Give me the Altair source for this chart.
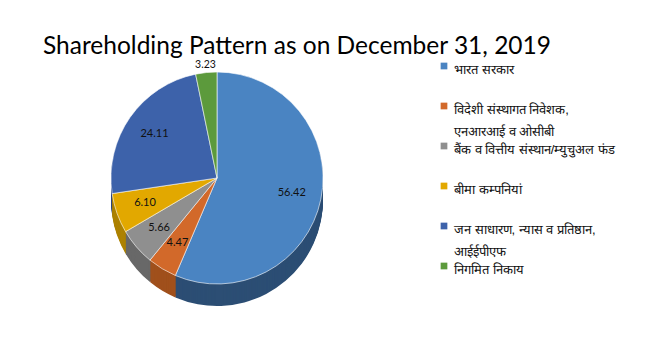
import altair as alt
import pandas as pd

title_text = "Shareholding Pattern as on December 31, 2019"
categories = [
    "भारत सरकार",
    "विदेशी संस्थागत निवेशक,",
    "बैंक व वित्तीय संस्थान/म्युचुअल फंड",
    "बीमा कम्पनियां",
    "जन साधारण, न्यास व प्रतिष्ठान,",
    "निगमित निकाय",
]
label_line2 = ["", "एनआरआई व ओसीबी", "", "", "आईईपीएफ", ""]
values = [56.42, 4.47, 5.66, 6.10, 24.11, 3.23]
order_idx = [0, 1, 2, 3, 4, 5]

top_colors = ["#4a84c2", "#d2692a", "#8f8f8f", "#e2a800", "#3d62aa", "#5c9a3c"]
side_colors = ["#2c4e74", "#a0501c", "#686868", "#ad8200", "#2b4680", "#44772b"]

df = pd.DataFrame({"cat": categories, "line2": label_line2, "value": values, "idx": order_idx})

CX, CY, R, DEPTH = 217, 178, 106, 22

top_scale = alt.Scale(domain=categories, range=top_colors)
side_scale = alt.Scale(domain=categories, range=side_colors)

base = alt.Chart(df)

layers = []
for off in range(DEPTH, 0, -1):
    layers.append(
        base.mark_arc(radius=R, stroke=None).encode(
            theta=alt.Theta("value:Q", stack=True),
            order=alt.Order("idx:Q"),
            color=alt.Color("cat:N", scale=side_scale, legend=None),
            x=alt.value(CX),
            y=alt.value(CY + off),
        )
    )

top = base.mark_arc(radius=R, stroke="#ffffff", strokeWidth=0.6).encode(
    theta=alt.Theta("value:Q", stack=True),
    order=alt.Order("idx:Q"),
    color=alt.Color("cat:N", scale=top_scale, legend=None),
    x=alt.value(CX),
    y=alt.value(CY),
)
layers.append(top)

inside = base.transform_calculate(
    lbl="datum.value >= 4 ? format(datum.value, '.2f') : ''"
).mark_text(
    radius=R * 0.72, font="Lato", fontSize=11, color="#111111"
).encode(
    theta=alt.Theta("value:Q", stack=True),
    order=alt.Order("idx:Q"),
    text="lbl:N",
    x=alt.value(CX),
    y=alt.value(CY),
)
outside = base.transform_calculate(
    lbl="datum.value < 4 ? format(datum.value, '.2f') : ''"
).mark_text(
    radius=R + 8, font="Lato", fontSize=10.5, color="#111111"
).encode(
    theta=alt.Theta("value:Q", stack=True),
    order=alt.Order("idx:Q"),
    text="lbl:N",
    x=alt.value(CX),
    y=alt.value(CY),
)

leg_y = alt.Y("cat:N", scale=alt.Scale(domain=categories, range=[66, 266], padding=0), axis=None)
leg_sq = base.mark_square(size=45, opacity=1).encode(
    x=alt.value(444),
    y=leg_y,
    color=alt.Color("cat:N", scale=top_scale, legend=None),
)
leg_txt1 = base.mark_text(
    align="left", baseline="middle", dy=4, fontSize=13, color="#111111",
).encode(
    x=alt.value(454),
    y=leg_y,
    text="cat:N",
)
leg_txt2 = base.mark_text(
    align="left", baseline="middle", dy=26, fontSize=13, color="#111111",
).encode(
    x=alt.value(454),
    y=leg_y,
    text="line2:N",
)

title = alt.Chart(pd.DataFrame({"t": [title_text]})).mark_text(
    font="Lato", fontSize=24.5, color="#000000", align="center", baseline="alphabetic"
).encode(x=alt.value(297), y=alt.value(54), text="t:N")

chart = alt.layer(*layers, inside, outside, leg_sq, leg_txt1, leg_txt2, title).resolve_scale(
    color="independent"
).properties(
    width=659, height=352, autosize=alt.AutoSizeParams(type="none"), padding=0,
    background="#ffffff",
).configure_view(stroke=None)

chart.save("out.html", embed_options={"renderer": "svg", "actions": False})
